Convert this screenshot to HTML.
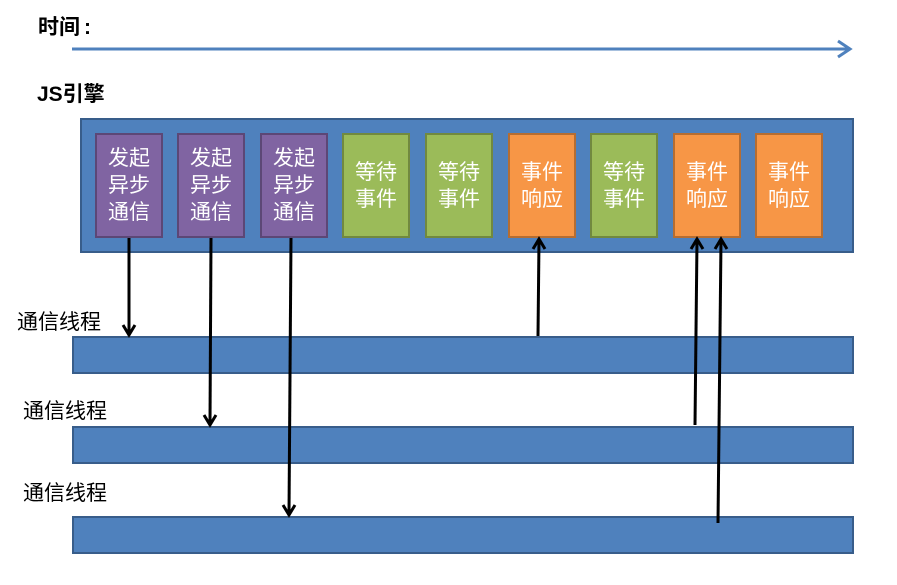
<!DOCTYPE html>
<html><head><meta charset="utf-8"><style>
body{margin:0;width:897px;height:585px;background:#fff;overflow:hidden;position:relative;font-family:"Liberation Sans","Noto Sans CJK SC",sans-serif}
.t{position:absolute;font-size:21px;color:#000;white-space:nowrap}
.b{font-weight:bold}
.box{position:absolute;top:133px;width:64px;height:101px;border:2px solid;color:#fff;font-size:21px;line-height:27px;display:flex;align-items:center;justify-content:center;text-align:center}
.p{background:#8064a2;border-color:#5c4776}
.g{background:#9bbb59;border-color:#71893f}
.o{background:#f79646;border-color:#b66d31}
.bar{position:absolute;left:72px;width:778px;height:34px;background:#4f81bd;border:2px solid #385d8a}
</style></head><body>
<div class="t b" style="left:38px;top:11px">时间<span style="margin-left:4px">:</span></div>
<div class="t b" style="left:37px;top:78px">JS引擎</div>
<div style="position:absolute;left:80px;top:118px;width:770px;height:131px;background:#4f81bd;border:2px solid #385d8a"></div>
<div class="box p" style="left:95px">发起<br>异步<br>通信</div>
<div class="box p" style="left:177px">发起<br>异步<br>通信</div>
<div class="box p" style="left:260px">发起<br>异步<br>通信</div>
<div class="box g" style="left:342px">等待<br>事件</div>
<div class="box g" style="left:425px">等待<br>事件</div>
<div class="box o" style="left:508px">事件<br>响应</div>
<div class="box g" style="left:590px">等待<br>事件</div>
<div class="box o" style="left:673px">事件<br>响应</div>
<div class="box o" style="left:755px">事件<br>响应</div>
<div class="bar" style="top:336px"></div>
<div class="bar" style="top:426px"></div>
<div class="bar" style="top:516px"></div>
<div class="t" style="left:17px;top:306px">通信线程</div>
<div class="t" style="left:23px;top:395px">通信线程</div>
<div class="t" style="left:23px;top:477px">通信线程</div>
<svg style="position:absolute;left:0;top:0" width="897" height="585">
<g stroke="#4f81bd" stroke-width="3" fill="none">
<line x1="72" y1="49" x2="849" y2="49"/>
<polyline points="838,41 850,49 838,57"/>
</g>
<g stroke="#000" stroke-width="3" fill="none">
<line x1="129" y1="238" x2="129" y2="334"/><polyline points="123,325 129,335 135,325"/>
<line x1="211" y1="238" x2="210" y2="424"/><polyline points="204,415 210,425 216,415"/>
<line x1="291" y1="238" x2="289" y2="514"/><polyline points="283,505 289,515 295,505"/>
<line x1="538" y1="336" x2="539" y2="240"/><polyline points="533,249 539,239 545,249"/>
<line x1="695" y1="425" x2="697" y2="240"/><polyline points="691,249 697,239 703,249"/>
<line x1="718" y1="523" x2="721" y2="240"/><polyline points="715,249 721,239 727,249"/>
</g>
</svg>
</body></html>
